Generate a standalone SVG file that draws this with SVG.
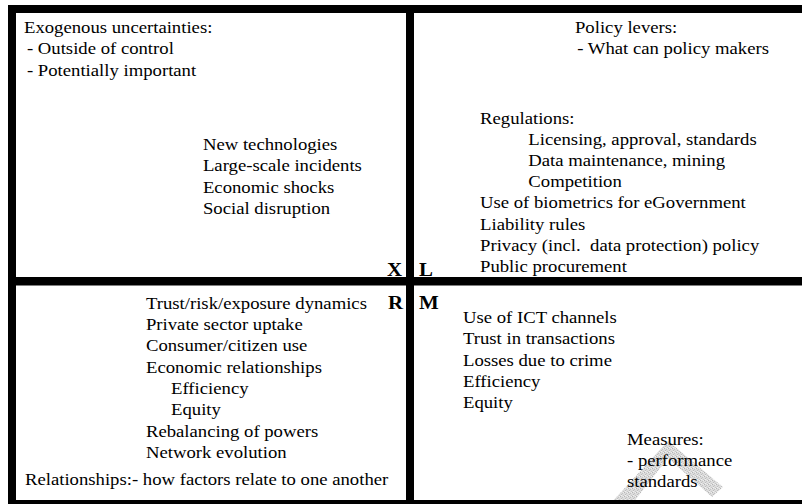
<svg xmlns="http://www.w3.org/2000/svg" width="802" height="504" viewBox="0 0 802 504">
  <defs>
    <pattern id="stipple" width="4" height="4" patternUnits="userSpaceOnUse">
      <rect width="4" height="4" fill="#dcdcdc"/>
      <rect x="0" y="0" width="1" height="1" fill="#b4b4b4"/>
      <rect x="2" y="1" width="1" height="1" fill="#c2c2c2"/>
      <rect x="1" y="2" width="1" height="1" fill="#bcbcbc"/>
      <rect x="3" y="3" width="1" height="1" fill="#c6c6c6"/>
      <rect x="3" y="0" width="1" height="1" fill="#eeeeee"/>
      <rect x="1" y="3" width="1" height="1" fill="#f0f0f0"/>
    </pattern>
    <style>
      .t { font-size: 17px; fill: #000; }
      .k { font-size: 19px; font-weight: bold; fill: #000; }
      .bar { fill: #000; }
    </style>
  </defs>

  <rect width="802" height="504" fill="#fff"/>

  <!-- faint chevron behind the measures text -->
  <polygon points="668,441 723,487 712,497 668,458 632,504 610,504" fill="url(#stipple)"/>

  <!-- quadrant frame -->
  <g id="grid">
    <rect class="bar" x="8" y="5" width="794" height="8"/>
    <rect class="bar" x="8" y="5" width="8" height="499"/>
    <rect class="bar" x="8" y="500" width="794" height="4"/>
    <rect class="bar" x="406" y="5" width="8" height="499"/>
    <rect class="bar" x="8" y="277" width="794" height="8.5"/>
  </g>

  <g transform="scale(1.1 1)" font-family="Liberation Serif, DejaVu Serif, serif">
    <g id="exogenous">
      <text class="t" x="21.8" y="33">Exogenous uncertainties:</text>
      <text class="t" x="24.5" y="54.5">- Outside of control</text>
      <text class="t" x="24.5" y="76">- Potentially important</text>
      <text class="t" x="184.5" y="150">New technologies</text>
      <text class="t" x="184.5" y="171.5">Large-scale incidents</text>
      <text class="t" x="184.5" y="193">Economic shocks</text>
      <text class="t" x="184.5" y="214">Social disruption</text>
      <text class="k" x="351.8" y="276">X</text>
    </g>

    <g id="levers">
      <text class="t" x="522.7" y="33">Policy levers:</text>
      <text class="t" x="524.8" y="54.5">- What can policy makers</text>
      <text class="t" x="436.4" y="124">Regulations:</text>
      <text class="t" x="480.3" y="145">Licensing, approval, standards</text>
      <text class="t" x="480.3" y="166">Data maintenance, mining</text>
      <text class="t" x="480.3" y="187">Competition</text>
      <text class="t" x="436.4" y="208.5">Use of biometrics for eGovernment</text>
      <text class="t" x="436.4" y="230">Liability rules</text>
      <text class="t" x="436.4" y="251" xml:space="preserve">Privacy (incl.  data protection) policy</text>
      <text class="t" x="436.4" y="272">Public procurement</text>
      <text class="k" x="380.9" y="276">L</text>
    </g>

    <g id="relationships">
      <text class="k" x="352.7" y="309">R</text>
      <text class="t" x="132.7" y="309">Trust/risk/exposure dynamics</text>
      <text class="t" x="132.7" y="330">Private sector uptake</text>
      <text class="t" x="132.7" y="351.5">Consumer/citizen use</text>
      <text class="t" x="132.7" y="373">Economic relationships</text>
      <text class="t" x="155.5" y="394">Efficiency</text>
      <text class="t" x="155.5" y="415.5">Equity</text>
      <text class="t" x="132.7" y="437">Rebalancing of powers</text>
      <text class="t" x="132.7" y="458">Network evolution</text>
      <text class="t" x="22.7" y="485">Relationships:- how factors relate to one another</text>
    </g>

    <g id="measures">
      <text class="k" x="380.9" y="309">M</text>
      <text class="t" x="420.9" y="323">Use of ICT channels</text>
      <text class="t" x="420.9" y="344.5">Trust in transactions</text>
      <text class="t" x="420.9" y="366">Losses due to crime</text>
      <text class="t" x="420.9" y="387">Efficiency</text>
      <text class="t" x="420.9" y="408.5">Equity</text>
      <text class="t" x="570" y="445">Measures:</text>
      <text class="t" x="570" y="466">- performance</text>
      <text class="t" x="570" y="487">standards</text>
    </g>
  </g>
</svg>
